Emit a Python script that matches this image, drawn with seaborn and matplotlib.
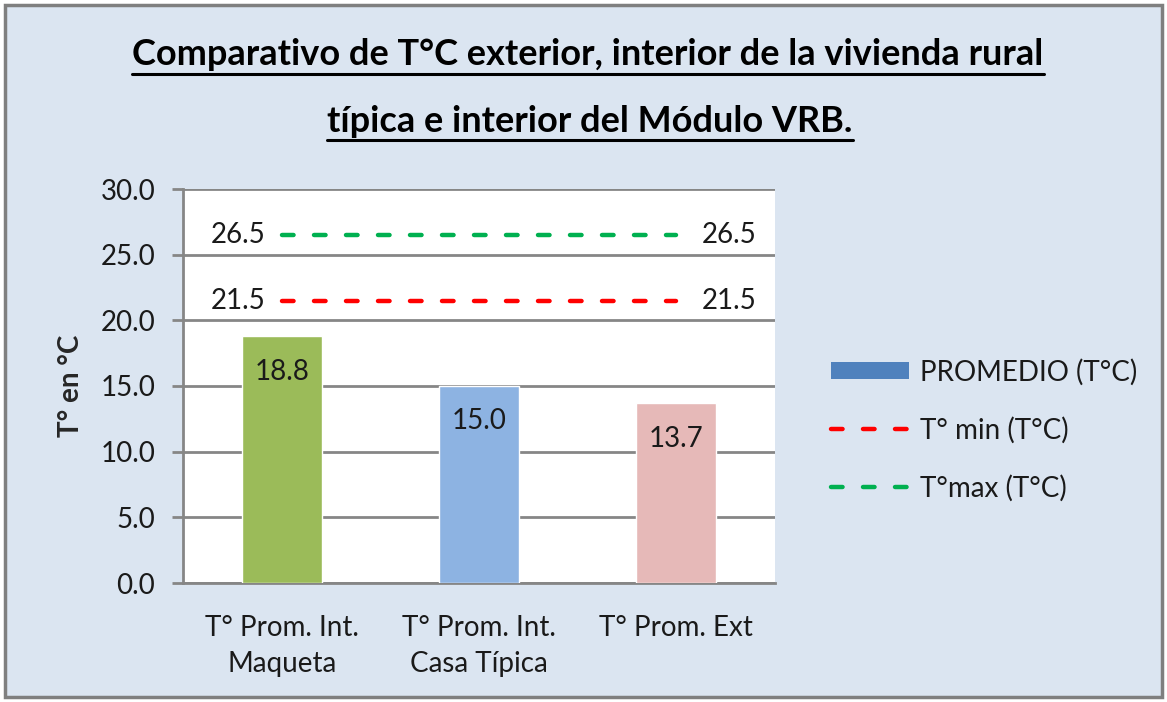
import numpy as np
import pandas as pd
import matplotlib
matplotlib.use("Agg")
import matplotlib.pyplot as plt
from matplotlib.patches import Rectangle, Patch
from matplotlib.lines import Line2D
import seaborn as sns

# ---- data ----
categories = ["T° Prom. Int.\nMaqueta", "T° Prom. Int.\nCasa Típica", "T° Prom. Ext"]
promedio = [18.8, 15.0, 13.7]
t_min = [21.5, 21.5, 21.5]
t_max = [26.5, 26.5, 26.5]
bar_colors = ["#9bbb59", "#8db3e2", "#e6b9b8"]
yticks = [0, 5, 10, 15, 20, 25, 30]

title_1 = "Comparativo de T°C exterior, interior de la vivienda rural"
title_2 = "típica e interior del Módulo VRB."
legend_labels = ["PROMEDIO (T°C)", "T° min (T°C)", "T°max (T°C)"]

sns.set_theme(style="white")
plt.rcParams["font.family"] = ["Lato", "DejaVu Sans"]

W, H = 1167, 702
FS = 20
fig = plt.figure(figsize=(W / 100, H / 100), dpi=100, facecolor="white")

# outer chart area with border
bg = "#dbe5f1"
fig.patches.append(Rectangle((5 / W, 5 / H), 1 - 10 / W, 1 - 10 / H,
                             transform=fig.transFigure, facecolor=bg,
                             edgecolor="#7f7f7f", linewidth=2.5, zorder=-5))

ax = fig.add_axes([183 / W, 1 - 583 / H, (775 - 183) / W, (583 - 189) / H])
ax.set_facecolor("white")

df = pd.DataFrame({"cat": categories, "val": promedio})
sns.barplot(data=df, x="cat", y="val", hue="cat", palette=bar_colors,
            width=0.405, legend=False, ax=ax, saturation=1, zorder=3)

xs = np.arange(len(categories))
sns.lineplot(x=xs, y=t_min, ax=ax, color="#ff0000", linewidth=3.2,
             dashes=False, zorder=4)
sns.lineplot(x=xs, y=t_max, ax=ax, color="#00b050", linewidth=3.2,
             dashes=False, zorder=4)
for ln in ax.lines:
    ln.set_dashes((2.6, 4.6))
    ln.set_dash_capstyle("round")

ax.set_xlim(-0.5, 2.5)
ax.set_ylim(0, 30)
ax.set_yticks(yticks)
ax.set_yticklabels([f"{v:.1f}" for v in yticks], fontsize=FS, color="#1a1a1a")
ax.set_xticks(xs)
ax.set_xticklabels(categories, fontsize=FS, color="#1a1a1a", linespacing=1.5)
ax.tick_params(axis="y", which="major", length=8, width=2, color="#868686",
               left=True, pad=12)
ax.tick_params(axis="x", length=0, pad=23)

ax.grid(axis="y", color="#868686", linewidth=2, zorder=1)
ax.set_axisbelow(True)
for s in ["top", "right"]:
    ax.spines[s].set_visible(False)
for s in ["left", "bottom"]:
    ax.spines[s].set_color("#868686")
    ax.spines[s].set_linewidth(2)

ax.set_xlabel("")
ax.set_ylabel("T° en °C", fontsize=FS, fontweight="bold", labelpad=12)

# value labels inside the bar tops
for x, v in zip(xs, promedio):
    ax.text(x, v - 2.7, f"{v:.1f}", ha="center", va="center",
            fontsize=FS, color="#1a1a1a", zorder=5)

# labels at both ends of the limit lines
for series in (t_min, t_max):
    ax.text(xs[0] - 0.08, series[0], f"{series[0]:.1f}", ha="right",
            va="center", fontsize=FS, color="#1a1a1a", zorder=5)
    ax.text(xs[-1] + 0.13, series[-1], f"{series[-1]:.1f}", ha="left",
            va="center", fontsize=FS, color="#1a1a1a", zorder=5)

# legend
handles = [Patch(facecolor="#4f81bd", edgecolor="none"),
           Line2D([], [], color="#ff0000", lw=3.2, dashes=(2.6, 4.6),
                  dash_capstyle="round"),
           Line2D([], [], color="#00b050", lw=3.2, dashes=(2.6, 4.6),
                  dash_capstyle="round")]
leg = fig.legend(handles, legend_labels, loc="center left",
                 bbox_to_anchor=(806 / W, 1 - 430 / H), frameon=False,
                 fontsize=FS, handlelength=2.8, handleheight=0.55,
                 labelspacing=1.12, handletextpad=0.4)
for t in leg.get_texts():
    t.set_color("#1a1a1a")

# title with underlines
t1 = fig.text(588 / W, 1 - 65 / H, title_1, ha="center", va="baseline",
              fontsize=26, fontweight="bold", color="black")
t2 = fig.text(590 / W, 1 - 132 / H, title_2, ha="center", va="baseline",
              fontsize=26, fontweight="bold", color="black")
fig.canvas.draw()
r = fig.canvas.get_renderer()
for t, yu in ((t1, 74), (t2, 140)):
    bb = t.get_window_extent(renderer=r)
    fig.lines.append(Line2D([bb.x0 / W, bb.x1 / W], [1 - yu / H, 1 - yu / H],
                            transform=fig.transFigure, color="black", lw=2.2))

fig.savefig("out.png", dpi=100, facecolor="white")
